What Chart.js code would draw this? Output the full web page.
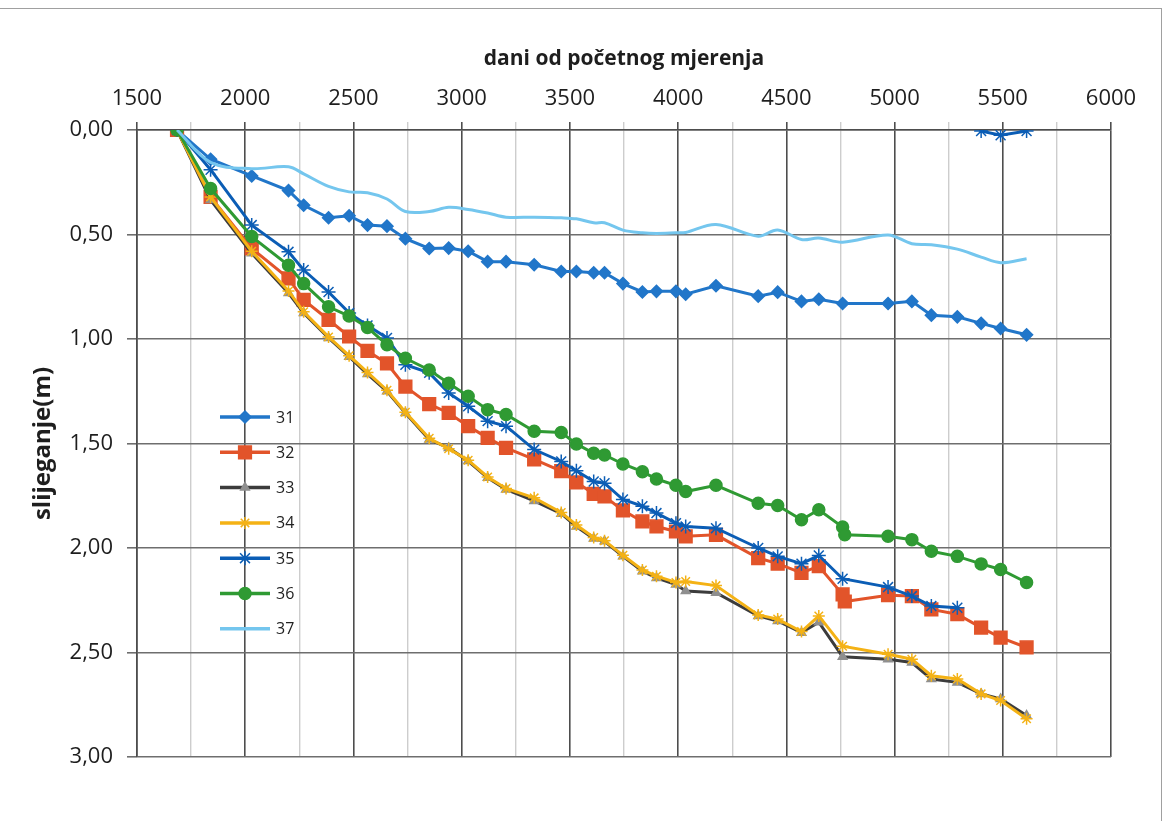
<!DOCTYPE html>
<html>
<head>
<meta charset="utf-8">
<style>
  html, body { margin: 0; padding: 0; background: #fff; }
  #wrap { position: relative; width: 1167px; height: 821px; }
  #frame { position: absolute; left: 0; top: 8px; width: 1161px; height: 812px; border-top: 1px solid #a0a0a0; border-right: 1px solid #a0a0a0; pointer-events: none; }
</style>
<script src="https://cdn.jsdelivr.net/npm/chart.js@4.4.1/dist/chart.umd.min.js"></script>
</head>
<body>
<div id="wrap">
  <canvas id="chart" width="1167" height="821"></canvas>
  <div id="frame"></div>
</div>
<script>
// dani od početnog mjerenja (zajednički za sve točke)
const days = [1685, 1840, 2030, 2200, 2270, 2385, 2480, 2565, 2655, 2740, 2850, 2940, 3030, 3120, 3205,
  3335, 3460, 3530, 3610, 3660, 3745, 3835, 3900, 3990, 4035, 4175, 4370, 4460, 4570, 4650,
  4760, 4770, 4970, 5080, 5170, 5290, 5400, 5490, 5610];

// slijeganje (m) po točkama
const s31 = [0, 0.14, 0.22, 0.29, 0.36, 0.42, 0.41, 0.455, 0.46, 0.52, 0.567, 0.565, 0.58, 0.63, 0.63,
  0.645, 0.677, 0.677, 0.683, 0.683, 0.735, 0.775, 0.772, 0.772, 0.786, 0.745, 0.795, 0.776, 0.82, 0.81,
  0.83, null, 0.83, 0.82, 0.886, 0.894, 0.925, 0.95, 0.98];
const s32 = [0, 0.32, 0.567, 0.71, 0.813, 0.908, 0.988, 1.057, 1.117, 1.228, 1.312, 1.354, 1.417, 1.473, 1.521,
  1.576, 1.632, 1.686, 1.741, 1.753, 1.82, 1.873, 1.897, 1.921, 1.944, 1.937, 2.048, 2.075, 2.119, 2.087,
  2.222, 2.256, 2.226, 2.23, 2.294, 2.317, 2.381, 2.429, 2.476];
const s33 = [0, 0.335, 0.59, 0.78, 0.876, 0.995, 1.085, 1.168, 1.25, 1.354, 1.481, 1.521, 1.584, 1.664, 1.72,
  1.775, 1.836, 1.897, 1.955, 1.968, 2.04, 2.111, 2.143, 2.175, 2.206, 2.214, 2.325, 2.349, 2.405, 2.355,
  2.52, null, 2.532, 2.548, 2.627, 2.643, 2.698, 2.722, 2.802];
const s34 = [0, 0.32, 0.58, 0.77, 0.87, 0.99, 1.08, 1.16, 1.245, 1.35, 1.475, 1.525, 1.58, 1.66, 1.715,
  1.76, 1.83, 1.89, 1.95, 1.965, 2.035, 2.105, 2.135, 2.165, 2.16, 2.18, 2.32, 2.34, 2.40, 2.325,
  2.47, null, 2.508, 2.532, 2.611, 2.627, 2.698, 2.73, 2.817];
const s35 = [0, 0.19, 0.455, 0.583, 0.67, 0.775, 0.875, 0.935, 0.995, 1.123, 1.162, 1.258, 1.322, 1.393, 1.417,
  1.529, 1.586, 1.63, 1.682, 1.69, 1.768, 1.80, 1.833, 1.881, 1.897, 1.905, 2.0, 2.04, 2.075, 2.036,
  2.147, null, 2.187, 2.23, 2.278, 2.286, 0.005, 0.025, 0.005];
const s36 = [0, 0.28, 0.51, 0.647, 0.735, 0.846, 0.89, 0.945, 1.028, 1.092, 1.148, 1.212, 1.274, 1.338, 1.361,
  1.441, 1.447, 1.502, 1.547, 1.555, 1.598, 1.635, 1.67, 1.70, 1.73, 1.70, 1.786, 1.797, 1.865, 1.817,
  1.90, 1.937, 1.944, 1.96, 2.016, 2.04, 2.076, 2.103, 2.165];
const s37 = [0, 0.155, 0.185, 0.176, 0.21, 0.27, 0.296, 0.30, 0.33, 0.39, 0.39, 0.37, 0.38, 0.397, 0.417,
  0.417, 0.42, 0.425, 0.444, 0.444, 0.479, 0.492, 0.495, 0.492, 0.49, 0.452, 0.508, 0.478, 0.524, 0.517,
  0.537, null, 0.502, 0.544, 0.549, 0.57, 0.608, 0.635, 0.616];

const labels = ['31', '32', '33', '34', '35', '36', '37'];
const xTicks = { min: 1500, max: 6000, step: 250, major: 500 };
const yTicks = { min: 0, max: 3, step: 0.5 };

const FONT = '"Open Sans", "Liberation Sans", sans-serif';

function toPoints(values) {
  return days.map((d, i) => ({ x: d, y: values[i] }));
}

// prekid linije kad je skok veći od 1 m (točka 35 na kraju mjerenja)
function breakOnJump(ctx) {
  const a = ctx.p0.parsed.y, b = ctx.p1.parsed.y;
  if (a == null || b == null || isNaN(a) || isNaN(b)) return undefined;
  return Math.abs(a - b) > 1 ? 'rgba(0,0,0,0)' : undefined;
}

function makeSeries(i, values, line, marker, style, radius) {
  return {
    label: labels[i],
    data: toPoints(values),
    borderColor: line,
    backgroundColor: marker,
    pointBackgroundColor: marker,
    pointBorderColor: marker,
    pointBorderWidth: 1.5,
    pointStyle: style,
    pointRadius: radius,
    borderWidth: 3,
    spanGaps: true,
    order: 10 - i   // kasnije serije crtaju se iznad (kao u Excelu)
  };
}

const datasets = [
  makeSeries(0, s31, '#2176c9', '#2176c9', 'rectRot', 6),
  makeSeries(1, s32, '#e2542a', '#e2542a', 'rect', 9),
  makeSeries(2, s33, '#3c3c3c', '#8f8f8f', 'triangle', 5),
  makeSeries(3, s34, '#f4b215', '#f4b215', 'star', 6),
  makeSeries(4, s35, '#0b5db5', '#0b5db5', 'star', 7),
  makeSeries(5, s36, '#2f9a33', '#2f9a33', 'circle', 6),
  makeSeries(6, s37, '#74c6ee', '#74c6ee', 'circle', 0)
];
datasets[4].segment = { borderColor: breakOnJump };
datasets[6].tension = 0.35;

// legenda unutar područja grafa
const innerLegend = {
  id: 'innerLegend',
  afterDraw(chart) {
    const ctx = chart.ctx;
    const x0 = 220, x1 = 270, top = 417, gap = 35.3;
    chart.data.datasets.forEach((ds, i) => {
      const y = top + i * gap;
      ctx.save();
      ctx.strokeStyle = ds.borderColor;
      ctx.lineWidth = 3.5;
      ctx.beginPath();
      ctx.moveTo(x0, y);
      ctx.lineTo(x1, y);
      ctx.stroke();
      if (ds.pointRadius > 0 && Chart.helpers && Chart.helpers.drawPoint) {
        ctx.fillStyle = ds.pointBackgroundColor;
        ctx.strokeStyle = ds.pointBorderColor;
        ctx.lineWidth = ds.pointBorderWidth;
        Chart.helpers.drawPoint(ctx, {
          pointStyle: ds.pointStyle, radius: ds.pointRadius, rotation: 0, borderWidth: ds.pointBorderWidth
        }, (x0 + x1) / 2, y);
      }
      ctx.fillStyle = '#222';
      ctx.font = '16px ' + FONT;
      ctx.textAlign = 'left';
      ctx.textBaseline = 'middle';
      ctx.fillText(ds.label, x1 + 6, y + 1);
      ctx.restore();
    });
  }
};

new Chart(document.getElementById('chart'), {
  type: 'line',
  data: { datasets: datasets },
  plugins: [innerLegend],
  options: {
    responsive: false,
    animation: false,
    layout: { padding: { left: 0, top: 0, right: 56, bottom: 64 } },
    plugins: {
      legend: { display: false },
      tooltip: { enabled: false }
    },
    scales: {
      x: {
        type: 'linear',
        position: 'top',
        min: xTicks.min,
        max: xTicks.max,
        afterFit: s => { s.height = 130; },
        ticks: {
          stepSize: xTicks.step,
          autoSkip: false,
          maxRotation: 0,
          padding: 10,
          color: '#1e1e1e',
          font: { family: FONT, size: 22 },
          callback: v => (v % xTicks.major === 0 ? String(v) : '')
        },
        grid: {
          color: c => (c.tick && c.tick.value % xTicks.major === 0 ? '#4d4d4d' : '#cdcdcd'),
          lineWidth: c => (c.tick && c.tick.value % xTicks.major === 0 ? 1.6 : 1.4),
          tickLength: 8
        },
        border: { display: true, color: '#4d4d4d', width: 1.6 },
        title: {
          display: true,
          text: 'dani od početnog mjerenja',
          color: '#1e1e1e',
          font: { family: FONT, size: 21, weight: 'bold' },
          padding: { top: 46, bottom: 0 }
        }
      },
      y: {
        type: 'linear',
        position: 'left',
        reverse: true,
        min: yTicks.min,
        max: yTicks.max,
        afterFit: s => { s.width = 137; },
        ticks: {
          stepSize: yTicks.step,
          padding: 14,
          color: '#1e1e1e',
          font: { family: FONT, size: 22 },
          callback: v => v.toFixed(2).replace('.', ',')
        },
        grid: { color: '#6e6e6e', lineWidth: 1.6, tickLength: 10 },
        border: { display: true, color: '#4d4d4d', width: 1.6 },
        title: {
          display: true,
          text: 'slijeganje(m)',
          color: '#1e1e1e',
          font: { family: FONT, size: 24, weight: 'bold' },
          padding: { top: 29, bottom: 0 }
        }
      }
    }
  }
});
</script>
</body>
</html>
